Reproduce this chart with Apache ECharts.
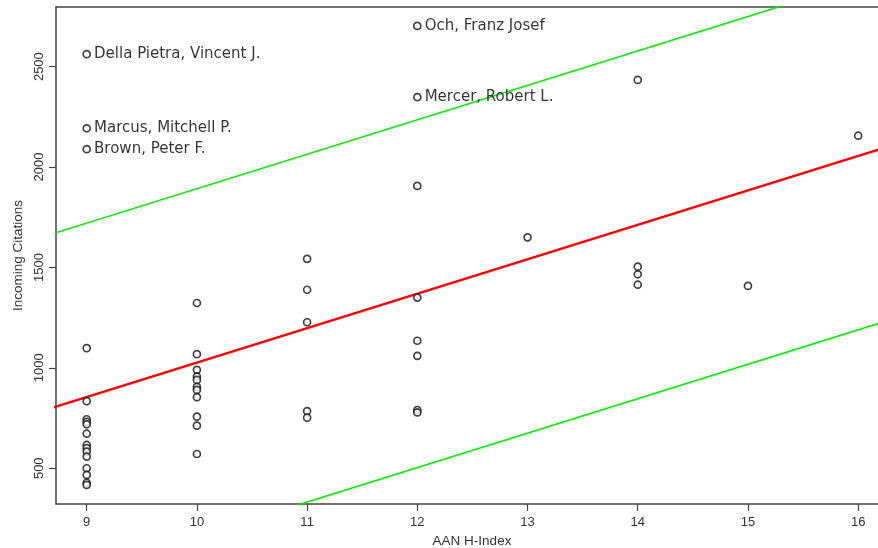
<!DOCTYPE html>
<html>
<head>
<meta charset="utf-8">
<title>Incoming Citations vs AAN H-Index</title>
<script src="https://cdn.jsdelivr.net/npm/echarts@6/dist/echarts.min.js"></script>
<style>
  html, body { margin: 0; padding: 0; background: #ffffff; }
  #chart { width: 878px; height: 548px; }
</style>
</head>
<body>
<div id="chart"></div>
<script>
// Authors: AAN h-index vs. incoming citations
const hIndex = [
  9, 9, 9, 9, 9, 9, 9, 9, 9, 9, 9, 9, 9, 9,
  10, 10, 10, 10, 10, 10, 10, 10, 10, 10, 10,
  11, 11, 11, 11, 11,
  12, 12, 12, 12, 12, 12,
  13,
  14, 14, 14, 14,
  15,
  16
];
const citations = [
  1098, 834, 744, 731, 719, 672, 616, 600, 583, 558, 500, 467, 428, 417,
  1323, 1068, 990, 956, 940, 905, 890, 854, 757, 712, 571,
  1543, 1389, 1227, 785, 752,
  1906, 1350, 1135, 1060, 790, 778,
  1650,
  2434, 1504, 1466, 1414,
  1408,
  2156
];

// Named outliers
const namedHIndex = [9, 9, 9, 12, 12];
const namedCitations = [2562, 2193, 2089, 2703, 2348];
const namedAuthors = [
  'Della Pietra, Vincent J.',
  'Marcus, Mitchell P.',
  'Brown, Peter F.',
  'Och, Franz Josef',
  'Mercer, Robert L.'
];

// Regression fit and prediction band, as end points [h-index, citations]
const fitLine = [[8.5, 769], [16.5, 2141]];
const upperBand = [[8.5, 1635], [16.5, 3007]];
const lowerBand = [[8.5, -97], [16.5, 1275]];

// Axis ticks
const xTicks = [9, 10, 11, 12, 13, 14, 15, 16];
const yTicks = [500, 1000, 1500, 2000, 2500];

const axisColor = '#444';
const tickFont = 'Liberation Sans, Arial, sans-serif';

const points = hIndex.map((h, i) => [h, citations[i]]);
const namedPoints = namedHIndex.map((h, i) => ({
  value: [h, namedCitations[i]],
  name: namedAuthors[i]
}));

const circleStyle = {
  color: '#ffffff',
  borderColor: '#111111',
  borderWidth: 1.7
};

const chart = echarts.init(document.getElementById('chart'), null, { renderer: 'canvas' });

chart.setOption({
  animation: false,
  backgroundColor: '#ffffff',
  grid: {
    left: 56, right: 0, top: 7, bottom: 44,
    containLabel: false,
    outerBoundsMode: 'none'
  },
  xAxis: [
    {
      type: 'value',
      min: 8.7214,
      max: 16.18,
      position: 'bottom',
      splitLine: { show: false },
      axisLine: { show: true, lineStyle: { color: axisColor, width: 1.5 } },
      axisTick: {
        show: true, length: 7, inside: false,
        customValues: xTicks,
        lineStyle: { color: axisColor, width: 1.2 }
      },
      axisLabel: {
        customValues: xTicks,
        formatter: v => String(v),
        margin: 12,
        fontFamily: tickFont,
        fontSize: 13,
        color: '#333'
      },
      name: 'AAN H-Index',
      nameLocation: 'middle',
      nameGap: 29,
      nameTextStyle: {
        fontFamily: tickFont,
        fontSize: 13.5,
        color: '#333',
        padding: [0, 0, 0, 10]
      }
    },
    {
      type: 'value',
      min: 8.7214,
      max: 16.18,
      position: 'top',
      splitLine: { show: false },
      axisLine: { show: true, lineStyle: { color: axisColor, width: 1.5 } },
      axisTick: { show: false },
      axisLabel: { show: false }
    }
  ],
  yAxis: {
    type: 'value',
    min: 322,
    max: 2797,
    splitLine: { show: false },
    axisLine: { show: true, lineStyle: { color: axisColor, width: 1.5 } },
    axisTick: {
      show: true, length: 7, inside: false,
      customValues: yTicks,
      lineStyle: { color: axisColor, width: 1.2 }
    },
    axisLabel: {
      customValues: yTicks,
      formatter: v => String(v),
      rotate: 90,
      margin: 10,
      fontFamily: tickFont,
      fontSize: 13,
      color: '#333'
    },
    name: 'Incoming Citations',
    nameLocation: 'middle',
    nameRotate: 90,
    nameGap: 30,
    nameTextStyle: {
      fontFamily: tickFont,
      fontSize: 13.5,
      color: '#333'
    }
  },
  series: [
    {
      type: 'line',
      data: upperBand,
      symbol: 'none',
      clip: true,
      lineStyle: { color: '#00ee00', width: 1.6 },
      silent: true,
      z: 1
    },
    {
      type: 'line',
      data: lowerBand,
      symbol: 'none',
      clip: true,
      lineStyle: { color: '#00ee00', width: 1.6 },
      silent: true,
      z: 1
    },
    {
      type: 'line',
      data: fitLine,
      symbol: 'none',
      clip: true,
      lineStyle: { color: '#ff0000', width: 2.2 },
      silent: true,
      z: 2
    },
    {
      type: 'scatter',
      data: points,
      symbol: 'circle',
      symbolSize: 7,
      itemStyle: circleStyle,
      silent: true,
      z: 3
    },
    {
      type: 'scatter',
      data: namedPoints,
      symbol: 'circle',
      symbolSize: 7,
      itemStyle: circleStyle,
      silent: true,
      z: 3,
      label: {
        show: true,
        position: 'right',
        distance: 3,
        formatter: p => p.name,
        fontFamily: 'DejaVu Sans, sans-serif',
        fontSize: 15,
        color: '#000000'
      }
    }
  ]
});
</script>
</body>
</html>
